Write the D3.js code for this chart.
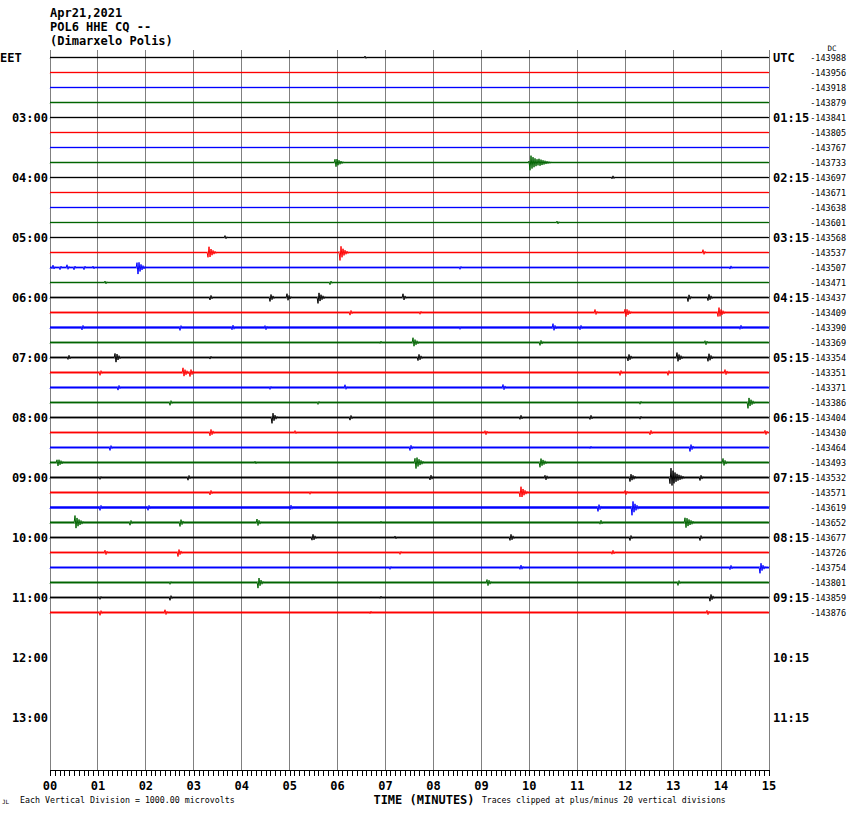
<!DOCTYPE html>
<html>
<head>
<meta charset="utf-8">
<script src="https://cdn.jsdelivr.net/npm/d3@7"></script>
<style>
  html,body{margin:0;padding:0;background:#fff;}
  svg{display:block;}
</style>
</head>
<body>
<svg id="chart" width="850" height="814"></svg>
<script>
// ---------------- DATA ----------------
const titleLines = ["Apr21,2021", "POL6 HHE CQ --", "(Dimarxelo Polis)"];
const traceColors = ["#000000", "#ff0000", "#0000ff", "#006400"];
const minuteTicks = ["00","01","02","03","04","05","06","07","08","09","10","11","12","13","14","15"];
const leftHourLabels = ["EET","03:00","04:00","05:00","06:00","07:00","08:00","09:00","10:00","11:00","12:00","13:00"];
const rightHourLabels = ["UTC","01:15","02:15","03:15","04:15","05:15","06:15","07:15","08:15","09:15","10:15","11:15"];
// DC offset of each 15-minute trace
const traceOffsets = [-143988,-143956,-143918,-143879,-143841,-143805,-143767,-143733,
  -143697,-143671,-143638,-143601,-143568,-143537,-143507,-143471,
  -143437,-143409,-143390,-143369,-143354,-143351,-143371,-143386,
  -143404,-143430,-143464,-143493,-143532,-143571,-143619,-143652,
  -143677,-143726,-143754,-143801,-143859,-143876];
// background noise level of each trace (microvolts)
const traceNoise = [45,45,45,50,45,45,45,50,45,45,45,45,45,50,60,50,
  60,65,85,65,65,70,75,65,65,65,70,70,70,70,95,75,65,65,70,70,65,70];
// events per trace: [minute, peak amplitude (microvolts), decay (seconds)]
const traceEvents = [
  [[6.57,100,3]],
  [],
  [],
  [],
  [],
  [],
  [],
  [[5.95,330,6],[10.01,530,10],[10.2,250,10]],
  [[11.73,150,3]],
  [],
  [],
  [[10.58,130,3]],
  [[3.65,130,3]],
  [[3.30,470,5],[6.05,530,5],[13.62,200,3]],
  [[0.05,200,3],[0.2,170,3],[0.35,200,3],[0.5,150,3],[0.7,170,3],[0.9,130,3],[1.82,530,5],[8.55,130,3],[14.19,150,3]],
  [[1.15,130,3],[5.84,150,3]],
  [[3.34,200,3],[4.59,270,4],[4.94,270,4],[5.59,400,5],[7.36,270,3],[13.31,270,3],[13.73,270,4]],
  [[6.26,200,3],[7.72,130,3],[11.37,200,3],[12.00,330,5],[13.94,400,5]],
  [[0.67,200,3],[2.71,200,3],[3.80,200,4],[4.49,200,3],[8.55,130,3],[10.49,270,4],[11.06,200,3],[14.40,200,3]],
  [[6.89,130,3],[7.57,330,5],[10.22,200,4],[13.67,200,3]],
  [[0.38,200,3],[1.36,400,4],[3.34,130,3],[7.68,270,4],[12.06,270,4],[13.08,330,5],[13.73,330,4]],
  [[1.04,200,3],[2.77,330,5],[2.92,270,4],[11.89,200,3],[12.89,200,3],[14.08,200,4]],
  [[1.42,200,3],[4.59,130,3],[6.15,200,3],[9.45,200,4]],
  [[2.50,200,3],[5.59,130,3],[12.31,130,3],[14.56,400,5]],
  [[4.63,400,4],[6.26,200,3],[9.81,200,3],[11.27,200,3],[12.31,130,3]],
  [[3.34,270,4],[5.11,130,3],[9.08,200,3],[12.52,200,3],[14.92,200,3]],
  [[1.25,200,3],[7.51,200,4],[11.27,130,3],[13.35,270,4]],
  [[0.15,270,6],[4.28,130,3],[7.62,470,6],[10.22,330,6],[14.04,270,4]],
  [[1.04,130,3],[2.88,200,3],[7.93,200,4],[10.33,200,4],[12.10,270,6],[12.94,700,8],[13.56,200,4]],
  [[3.34,200,3],[5.42,130,3],[9.81,470,5],[12.00,200,3]],
  [[1.04,200,4],[2.04,200,4],[5.01,200,4],[11.43,270,4],[12.14,530,5]],
  [[0.52,470,6],[1.67,200,3],[2.71,270,4],[4.32,270,4],[6.89,130,3],[11.48,200,3],[13.25,400,7]],
  [[5.47,270,4],[7.20,130,3],[9.60,270,4],[12.10,200,3],[13.56,200,3]],
  [[1.15,200,3],[2.67,270,4],[7.30,130,3],[11.73,200,3]],
  [[7.09,130,3],[9.81,200,4],[14.19,200,3],[14.81,400,4]],
  [[2.50,130,3],[4.34,400,4],[9.12,270,4],[13.10,200,3]],
  [[1.04,130,3],[2.50,200,3],[6.89,130,3],[13.77,270,4]],
  [[1.04,200,3],[2.40,200,3],[6.68,130,3],[13.71,200,3]]
];
const noteLeft = "Each Vertical Division = 1000.00 microvolts";
const noteRight = "Traces clipped at plus/minus 20 vertical divisions";
const axisTitle = "TIME (MINUTES)";

// ---------------- DRAW ----------------
const svg = d3.select("#chart");
const x = d3.scaleLinear().domain([0, 15]).range([50, 769]);
const yTrace = d3.scaleLinear().domain([0, 1]).range([57.5, 72.5]); // trace index -> y
const amp = d3.scaleLinear().domain([0, 1000]).range([0, 15]);     // microvolts -> px
const plotTop = 50, plotBottom = 770;

const mono = "'DejaVu Sans Mono', 'Liberation Mono', monospace";

// vertical grid lines (each minute)
svg.append("g").selectAll("line").data(d3.range(0, 16)).join("line")
  .attr("x1", d => x(d)).attr("x2", d => x(d))
  .attr("y1", plotTop).attr("y2", plotBottom)
  .attr("stroke", "#808080").attr("stroke-width", 1)
  .attr("shape-rendering", "crispEdges");

// traces
const step = 1; // px per sample
const nSamples = Math.round((x(15) - x(0)) / step);
const tracesG = svg.append("g");
traceOffsets.forEach((off, i) => {
  const y0 = yTrace(i);
  const evs = traceEvents[i];
  const pts = [];
  for (let s = 0; s <= nSamples; s++) {
    const px = x(0) + s * step;
    const t = x.invert(px);
    let a = traceNoise[i];
    evs.forEach(([m, A, dur]) => {
      const dt = (t - m) * 60;
      let c = 0;
      if (dt >= 0) c = A * Math.exp(-dt / dur);
      else c = A * Math.exp(dt / 0.6);
      if (c > a) a = c;
    });
    const sign = (s % 2 === 0) ? 1 : -1;
    pts.push([px, y0 + sign * amp(a)]);
  }
  tracesG.append("path")
    .attr("d", d3.line()(pts))
    .attr("fill", "none")
    .attr("stroke", traceColors[i % 4])
    .attr("stroke-width", 1);
});

// bottom axis
const axisG = svg.append("g").attr("transform", `translate(0,${plotBottom})`);
axisG.call(d3.axisBottom(x).tickValues(d3.range(0, 15.0001, 0.1)).tickSize(6).tickFormat(""))
  .call(g => g.select(".domain").attr("stroke", "#000").attr("d", `M${x(0)},0.5H${x(15)}`))
  .call(g => g.selectAll(".tick line").attr("stroke", "#000").attr("shape-rendering", "crispEdges"))
  .call(g => g.selectAll(".tick text").remove());
axisG.selectAll("text.minlab").data(minuteTicks).join("text")
  .attr("class", "minlab")
  .attr("x", (d, i) => x(i)).attr("y", 19.5)
  .attr("text-anchor", "middle")
  .attr("fill", "#000")
  .attr("font-family", mono).attr("font-weight", "bold").attr("font-size", 12)
  .text(d => d);

// title
svg.append("g").selectAll("text").data(titleLines).join("text")
  .attr("x", 50).attr("y", (d, i) => 17 + i * 14)
  .attr("font-family", mono).attr("font-weight", "bold").attr("font-size", 12)
  .text(d => d);

// left hour labels
svg.append("g").selectAll("text").data(leftHourLabels).join("text")
  .attr("x", (d, i) => i === 0 ? 0 : 48)
  .attr("y", (d, i) => yTrace(i * 4) + 4.5)
  .attr("text-anchor", (d, i) => i === 0 ? "start" : "end")
  .attr("font-family", mono).attr("font-weight", "bold").attr("font-size", 12)
  .text(d => d);

// right hour labels
svg.append("g").selectAll("text").data(rightHourLabels).join("text")
  .attr("x", 773)
  .attr("y", (d, i) => yTrace(i * 4) + 4.5)
  .attr("font-family", mono).attr("font-weight", "bold").attr("font-size", 12)
  .text(d => d);

// DC offsets
svg.append("g").selectAll("text").data(traceOffsets).join("text")
  .attr("x", 846)
  .attr("y", (d, i) => yTrace(i) + 3)
  .attr("text-anchor", "end")
  .attr("font-family", mono).attr("font-size", 8.5)
  .text(d => d);
svg.append("text").attr("x", 832).attr("y", 50.5).attr("text-anchor", "middle")
  .attr("font-family", mono).attr("font-size", 7.5).text("DC");

// bottom notes
svg.append("text").attr("x", 20).attr("y", 803)
  .attr("font-family", mono).attr("font-size", 8.3).text(noteLeft);
svg.append("text").attr("x", 482).attr("y", 803)
  .attr("font-family", mono).attr("font-size", 8.1).text(noteRight);
svg.append("text").attr("x", 424).attr("y", 803.5).attr("text-anchor", "middle")
  .attr("font-family", mono).attr("font-weight", "bold").attr("font-size", 12).text(axisTitle);
svg.append("text").attr("x", 2).attr("y", 804)
  .attr("font-family", mono).attr("font-size", 6).text("JL");
</script>
</body>
</html>
